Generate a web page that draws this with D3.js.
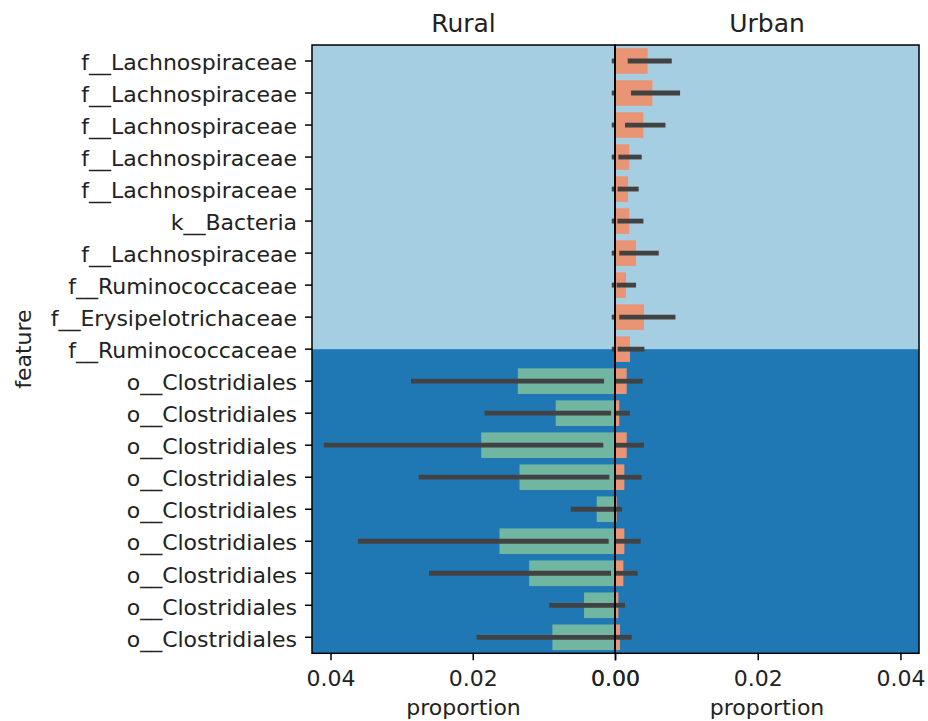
<!DOCTYPE html>
<html>
<head>
<meta charset="utf-8">
<script src="https://cdn.jsdelivr.net/npm/d3@7"></script>
<style>
  body { margin: 0; background: #fff; }
  text { font-family: "DejaVu Sans", sans-serif; fill: #222; }
</style>
</head>
<body>
<svg id="chart"></svg>
<script>
const features = [
  "f__Lachnospiraceae", "f__Lachnospiraceae", "f__Lachnospiraceae",
  "f__Lachnospiraceae", "f__Lachnospiraceae", "k__Bacteria",
  "f__Lachnospiraceae", "f__Ruminococcaceae", "f__Erysipelotrichaceae",
  "f__Ruminococcaceae", "o__Clostridiales", "o__Clostridiales",
  "o__Clostridiales", "o__Clostridiales", "o__Clostridiales",
  "o__Clostridiales", "o__Clostridiales", "o__Clostridiales",
  "o__Clostridiales"
];

const ruralMean = [0.0001, 0.0001, 0.0001, 0.0001, 0.0001, 0.0001, 0.0001, 0.0001, 0.0001, 0.0001,
  0.01366, 0.00833, 0.01881, 0.01343, 0.00257, 0.01624, 0.01207, 0.00435, 0.0088];
const ruralLow = [0.0001, 0.0001, 0.0001, 0.0001, 0.0001, 0.0001, 0.0001, 0.0001, 0.0001, 0.0001,
  0.00154, 0.00056, 0.00164, 0.0008, 0, 0.00089, 0.00056, 0, 0];
const ruralHigh = [0.00045, 0.00045, 0.00045, 0.00045, 0.00045, 0.00045, 0.00045, 0.00045, 0.00045, 0.00045,
  0.02868, 0.01834, 0.04094, 0.0276, 0.00622, 0.03611, 0.02615, 0.00926, 0.01947];

const urbanMean = [0.00458, 0.00524, 0.00398, 0.002, 0.00183, 0.002, 0.00295, 0.00154, 0.00407, 0.0021,
  0.00164, 0.0006, 0.00164, 0.00131, 0.00024, 0.00131, 0.00117, 0.00047, 0.0007];
const urbanLow = [0.00178, 0.00225, 0.0014, 0.00047, 0.00037, 0.00033, 0.0006, 0.00023, 0.0006, 0.00037,
  0.0001, 0, 0.0001, 0.0001, 0, 0.0001, 0.0001, 0, 0];
const urbanHigh = [0.00795, 0.00912, 0.00707, 0.00374, 0.00332, 0.00398, 0.00613, 0.00295, 0.00847, 0.00412,
  0.00388, 0.0021, 0.00407, 0.00374, 0.001, 0.0036, 0.00318, 0.0014, 0.00234];

// background changes colour at the centre of this row
const splitRow = 9;
const xTicks = [0, 0.02, 0.04];
const xMax = 0.0426;

const width = 928;
const height = 721;
const plotTop = 45;
const plotBottom = 653.3;
const leftX = 312;
const midX = 615;
const rightX = 919;

const svg = d3.select("#chart").attr("width", width).attr("height", height);

const rows = features.map((d, i) => i);
const yScale = d3.scaleBand()
  .domain(rows)
  .range([plotTop, plotBottom])
  .paddingInner(0.2)
  .paddingOuter(0.1);
const rowCenter = (i) => yScale(i) + yScale.bandwidth() / 2;

const panels = [
  {
    title: "Rural",
    mean: ruralMean, low: ruralLow, high: ruralHigh,
    color: "#71b6a1",
    x: d3.scaleLinear().domain([0, xMax]).range([midX, leftX]),
    x0: leftX, x1: midX
  },
  {
    title: "Urban",
    mean: urbanMean, low: urbanLow, high: urbanHigh,
    color: "#e99575",
    x: d3.scaleLinear().domain([0, xMax]).range([midX, rightX]),
    x0: midX, x1: rightX
  }
];

panels.forEach((p) => {
  const g = svg.append("g");
  const splitY = rowCenter(splitRow);

  // background bands
  g.append("rect")
    .attr("x", p.x0).attr("y", plotTop)
    .attr("width", p.x1 - p.x0).attr("height", splitY - plotTop)
    .attr("fill", "#a6cee3");
  g.append("rect")
    .attr("x", p.x0).attr("y", splitY)
    .attr("width", p.x1 - p.x0).attr("height", plotBottom - splitY)
    .attr("fill", "#1f78b4");

  g.selectAll(".bar")
    .data(rows)
    .join("rect")
    .attr("class", "bar")
    .attr("x", (i) => Math.min(p.x(0), p.x(p.mean[i])))
    .attr("width", (i) => Math.abs(p.x(p.mean[i]) - p.x(0)))
    .attr("y", (i) => yScale(i))
    .attr("height", yScale.bandwidth())
    .attr("fill", p.color);

  g.selectAll(".err")
    .data(rows)
    .join("line")
    .attr("class", "err")
    .attr("x1", (i) => p.x(p.low[i]))
    .attr("x2", (i) => p.x(p.high[i]))
    .attr("y1", rowCenter)
    .attr("y2", rowCenter)
    .attr("stroke", "#424242")
    .attr("stroke-width", 4.8);

  // x axis
  const axis = g.append("g")
    .attr("transform", `translate(0, ${plotBottom})`)
    .call(d3.axisBottom(p.x).tickValues(xTicks).tickFormat(d3.format(".2f"))
      .tickSize(7).tickPadding(10));
  axis.select(".domain").remove();
  axis.selectAll("line").attr("stroke", "#000").attr("stroke-width", 1.5);
  axis.selectAll("text")
    .attr("font-size", 22)
    .attr("fill", "#222")
    .attr("font-family", "DejaVu Sans");

  g.append("text")
    .attr("x", (p.x0 + p.x1) / 2)
    .attr("y", 715)
    .attr("text-anchor", "middle")
    .attr("font-size", 22)
    .text("proportion");

  g.append("text")
    .attr("x", (p.x0 + p.x1) / 2)
    .attr("y", 32)
    .attr("text-anchor", "middle")
    .attr("font-size", 25)
    .text(p.title);

  // frame
  g.append("rect")
    .attr("x", p.x0).attr("y", plotTop)
    .attr("width", p.x1 - p.x0).attr("height", plotBottom - plotTop)
    .attr("fill", "none")
    .attr("stroke", "#000")
    .attr("stroke-width", 1.5);
});

// y axis on the left panel
const yAxis = svg.append("g")
  .attr("transform", `translate(${leftX},0)`)
  .call(d3.axisLeft(yScale).tickFormat((i) => features[i]).tickSize(7).tickPadding(8));
yAxis.select(".domain").remove();
yAxis.selectAll("line").attr("stroke", "#000").attr("stroke-width", 1.5);
yAxis.selectAll("text")
  .attr("font-size", 22)
  .attr("dy", "0.42em")
  .attr("fill", "#222")
  .attr("font-family", "DejaVu Sans");

svg.append("text")
  .attr("transform", `translate(31, ${(plotTop + plotBottom) / 2}) rotate(-90)`)
  .attr("text-anchor", "middle")
  .attr("font-size", 22)
  .text("feature");

// shared zero line
svg.append("line")
  .attr("x1", midX).attr("x2", midX)
  .attr("y1", plotTop).attr("y2", plotBottom)
  .attr("stroke", "#000")
  .attr("stroke-width", 2);
</script>
</body>
</html>
